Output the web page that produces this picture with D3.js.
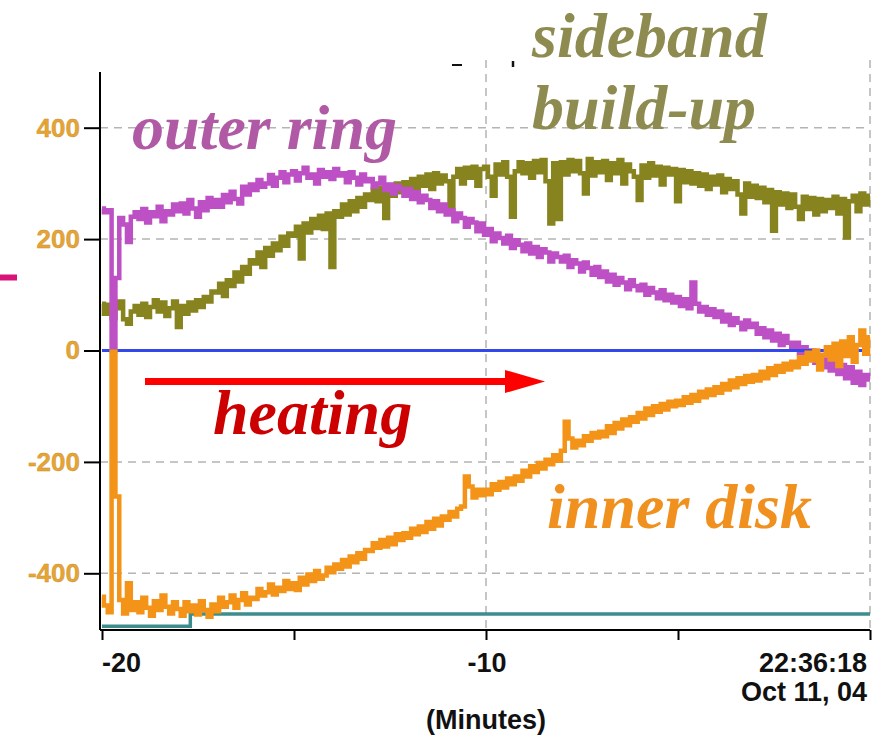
<!DOCTYPE html>
<html><head><meta charset="utf-8">
<script src="https://cdn.jsdelivr.net/npm/d3@7"></script>
<style>body{margin:0;background:#fff}svg{display:block}</style>
</head><body>
<svg id="c" width="878" height="735"></svg>
<script>
// sample times (minutes before 22:36:18), every 0.1 min
const minutes = d3.range(0, 201).map(i => +(-20 + i * 0.1).toFixed(1));

// outer ring (purple)
const outerRing = [
 255, 248, 252, 0, 130, 238, 226, 195, 240, 248,
 236, 254, 230, 248, 241, 258, 232, 250, 244, 262,
 250, 264, 246, 270, 255, 240, 266, 252, 274, 258,
 270, 258, 279, 266, 285, 272, 264, 294, 280, 298,
 288, 306, 294, 300, 315, 296, 310, 320, 302, 316,
 322, 305, 318, 328, 310, 316, 300, 324, 312, 320,
 308, 326, 314, 318, 302, 320, 310, 298, 316, 304,
 308, 294, 300, 310, 288, 298, 282, 296, 290, 278,
 290, 272, 284, 266, 278, 270, 256, 268, 250, 262,
 244, 252, 232, 246, 238, 222, 236, 230, 214, 228,
 208, 218, 196, 210, 202, 192, 206, 184, 198, 190,
 178, 192, 174, 186, 168, 182, 176, 160, 174, 168,
 160, 170, 150, 162, 156, 142, 158, 148, 136, 150,
 132, 142, 124, 136, 118, 130, 122, 110, 126, 116,
 108, 118, 100, 112, 104, 94, 108, 90, 100, 86,
 96, 80, 92, 76, 122, 84, 70, 78, 64, 74,
 60, 70, 52, 64, 46, 58, 50, 38, 54, 42,
 48, 30, 40, 24, 36, 18, 30, 10, 26, 14,
 4, 14, -6, 6, -14, 0, -22, -8, -30, -16,
 -36, -18, -42, -26, -50, -30, -58, -38, -62, -44,
 -52
];

// sideband build-up (olive)
const sideband = [
 84, 66, 82, 58, 76, 88, 56, 48, 70, 80,
 64, 84, 60, 78, 90, 70, 86, 62, 76, 88,
 42, 80, 66, 86, 72, 90, 78, 96, 88, 106,
 104, 120, 98, 126, 116, 140, 124, 150, 138, 162,
 156, 176, 150, 184, 170, 192, 180, 204, 188, 210,
 206, 222, 165, 228, 212, 236, 220, 242, 218, 246,
 150, 250, 240, 262, 244, 268, 250, 274, 258, 280,
 270, 288, 268, 292, 238, 294, 278, 300, 284, 302,
 290, 308, 286, 312, 296, 316, 290, 318, 300, 314,
 304, 250, 312, 326, 300, 328, 310, 330, 296, 326,
 330, 312, 278, 334, 316, 338, 312, 240, 322, 338,
 318, 336, 310, 340, 320, 342, 304, 228, 336, 236,
 338, 316, 342, 322, 340, 318, 282, 344, 314, 338,
 320, 340, 306, 336, 318, 342, 300, 334, 322, 312,
 270, 332, 310, 336, 314, 330, 298, 328, 316, 326,
 268, 324, 302, 322, 300, 318, 296, 316, 290, 312,
 298, 314, 284, 308, 290, 304, 280, 246, 300, 276,
 296, 274, 292, 266, 288, 215, 284, 262, 282, 256,
 280, 258, 236, 276, 254, 274, 244, 272, 250, 270,
 256, 276, 246, 272, 203, 268, 278, 250, 282, 262,
 278
];

// inner disk (orange)
const innerDisk = [
 -442, -458, -470, -2, -262, -448, -472, -418, -466, -452,
 -470, -444, -462, -476, -450, -466, -440, -460, -472, -452,
 -464, -476, -452, -468, -458, -474, -450, -466, -478, -456,
 -468, -444, -460, -452, -440, -462, -448, -436, -456, -444,
 -446, -428, -440, -434, -420, -438, -426, -432, -414, -428,
 -418, -430, -408, -420, -402, -414, -396, -410, -404, -390,
 -398, -384, -392, -376, -388, -370, -380, -364, -374, -358,
 -360, -346, -354, -340, -352, -336, -348, -330, -340, -328,
 -336, -320, -330, -316, -326, -308, -320, -302, -314, -298,
 -304, -290, -298, -284, -280, -226, -244, -264, -250, -260,
 -250, -258, -240, -250, -236, -246, -230, -240, -226, -234,
 -216, -226, -208, -218, -202, -212, -196, -204, -188, -198,
 -180, -128, -158, -174, -162, -170, -154, -162, -148, -156,
 -146, -154, -136, -148, -130, -140, -124, -134, -120, -128,
 -112, -122, -104, -116, -100, -110, -96, -106, -92, -100,
 -90, -98, -84, -94, -80, -90, -74, -84, -70, -80,
 -66, -76, -60, -70, -54, -66, -50, -60, -46, -56,
 -44, -54, -38, -50, -32, -44, -28, -38, -24, -34,
 -20, -30, -12, -24, -4, -18, 0, -34, -8, 6,
 -16, 12, -28, 16, -10, 24, -20, 10, 36, -6,
 24
];

// flat traces
const baseT = [-20, -17.7, 0];
const baseV = [-495, -473, -473];
const zeroT = [-20, 0];
const zeroV = [0, 0];

const yTicks = [400, 200, 0, -200, -400];
const yGrid = [400, 200, -200, -400];
const xTicks = [-20, -15, -10, -5, 0];
const xGrid = [-10, 0];

const svg = d3.select("#c");
const x = d3.scaleLinear().domain([-20, 0]).range([102, 870]);
const y = d3.scaleLinear().domain([-500, 500]).range([629, 72]);

// gridlines
svg.append("g").selectAll("line").data(yGrid).join("line")
  .attr("x1", 100).attr("x2", 870).attr("y1", d => y(d)).attr("y2", d => y(d))
  .attr("stroke", "#b4b4b4").attr("stroke-width", 1.5).attr("stroke-dasharray", "8,6");
svg.append("g").selectAll("line").data(xGrid).join("line")
  .attr("x1", d => x(d)).attr("x2", d => x(d)).attr("y1", 60).attr("y2", 630)
  .attr("stroke", "#b4b4b4").attr("stroke-width", 1.5).attr("stroke-dasharray", "8,6");

// title remnants at top
svg.append("line").attr("x1", 452).attr("x2", 462).attr("y1", 65).attr("y2", 65).attr("stroke", "#111").attr("stroke-width", 2);
svg.append("line").attr("x1", 513).attr("x2", 513).attr("y1", 61).attr("y2", 67).attr("stroke", "#111").attr("stroke-width", 2.5);

// magenta marker at left margin
svg.append("line").attr("x1", 0).attr("x2", 17).attr("y1", 277.5).attr("y2", 277.5)
  .attr("stroke", "#d81478").attr("stroke-width", 6);

const line = (ts, vs, curve) => d3.line().x((d, i) => x(ts[i])).y(d => y(d)).curve(curve || d3.curveLinear)(vs);

// teal baseline
svg.append("path").attr("d", line(baseT, baseV, d3.curveStepAfter))
  .attr("fill", "none").attr("stroke", "#3d8d8d").attr("stroke-width", 3.5);

// olive
svg.append("path").attr("d", line(minutes, sideband, d3.curveStep))
  .attr("fill", "none").attr("stroke", "#87831f").attr("stroke-width", 4.5);
// purple
svg.append("path").attr("d", line(minutes, outerRing, d3.curveStep))
  .attr("fill", "none").attr("stroke", "#bd50c4").attr("stroke-width", 4.5);
// blue zero
svg.append("path").attr("d", line(zeroT, zeroV))
  .attr("fill", "none").attr("stroke", "#3348ea").attr("stroke-width", 2.8);
// orange
svg.append("path").attr("d", line(minutes, innerDisk, d3.curveStep))
  .attr("fill", "none").attr("stroke", "#f39418").attr("stroke-width", 4.5);

// axes
const yAxis = svg.append("g").attr("transform", "translate(100,0)")
  .call(d3.axisLeft(y).tickValues(yTicks).tickSize(16).tickPadding(4).tickFormat(d3.format("d")));
yAxis.select(".domain").attr("d", `M0,${y(500)}V630`).attr("stroke", "#000").attr("stroke-width", 2);
yAxis.selectAll(".tick line").attr("stroke", "#000").attr("stroke-width", 2);
yAxis.selectAll(".tick text")
  .attr("font-family", "'Liberation Sans', Arial, sans-serif").attr("font-size", 26).attr("font-weight", "bold")
  .attr("fill", "#e6a437").attr("stroke", "#c8902a").attr("stroke-width", 0.4)
  .text(d => d < 0 ? "-" + Math.abs(d) : d);

const xAxis = svg.append("g").attr("transform", "translate(0,630)")
  .call(d3.axisBottom(x).tickValues(xTicks).tickSize(10).tickFormat(""));
xAxis.select(".domain").attr("d", "M100,0H870").attr("stroke", "#000").attr("stroke-width", 2);
xAxis.selectAll(".tick line").attr("stroke", "#000").attr("stroke-width", 2);

const lab = (t, txt, yy, anchor, dx) => svg.append("text").attr("x", x(t) + (dx || 0)).attr("y", yy)
  .attr("text-anchor", anchor).attr("font-family", "'Liberation Sans', Arial, sans-serif")
  .attr("font-size", 27).attr("font-weight", "bold").attr("fill", "#111").text(txt);
lab(-20, "-20", 672, "start", 0);
lab(-10, "-10", 672, "middle", 1);
lab(0, "22:36:18", 672, "end", -3);
lab(0, "Oct 11, 04", 701, "end", -3);
lab(-10, "(Minutes)", 729, "middle", 0);

// red arrow
svg.append("line").attr("x1", 145).attr("x2", 510).attr("y1", 381.5).attr("y2", 381.5)
  .attr("stroke", "#ff0000").attr("stroke-width", 7);
svg.append("path").attr("d", "M505,370L545,381.5L505,393Z").attr("fill", "#ff0000");

// annotations
const ann = (txt, xx, yy, col) => svg.append("text").attr("x", xx).attr("y", yy)
  .attr("font-family", "'Liberation Serif', 'Times New Roman', serif").attr("font-style", "italic")
  .attr("font-weight", "bold").attr("font-size", 64).attr("fill", col).text(txt);
ann("outer ring", 132, 149, "#b05aa6");
ann("sideband", 532, 57, "#8e8b50");
ann("build-up", 532, 129, "#8e8b50");
ann("heating", 213, 434, "#cc0000");
ann("inner disk", 547, 528, "#f0901e");
</script>
</body></html>
